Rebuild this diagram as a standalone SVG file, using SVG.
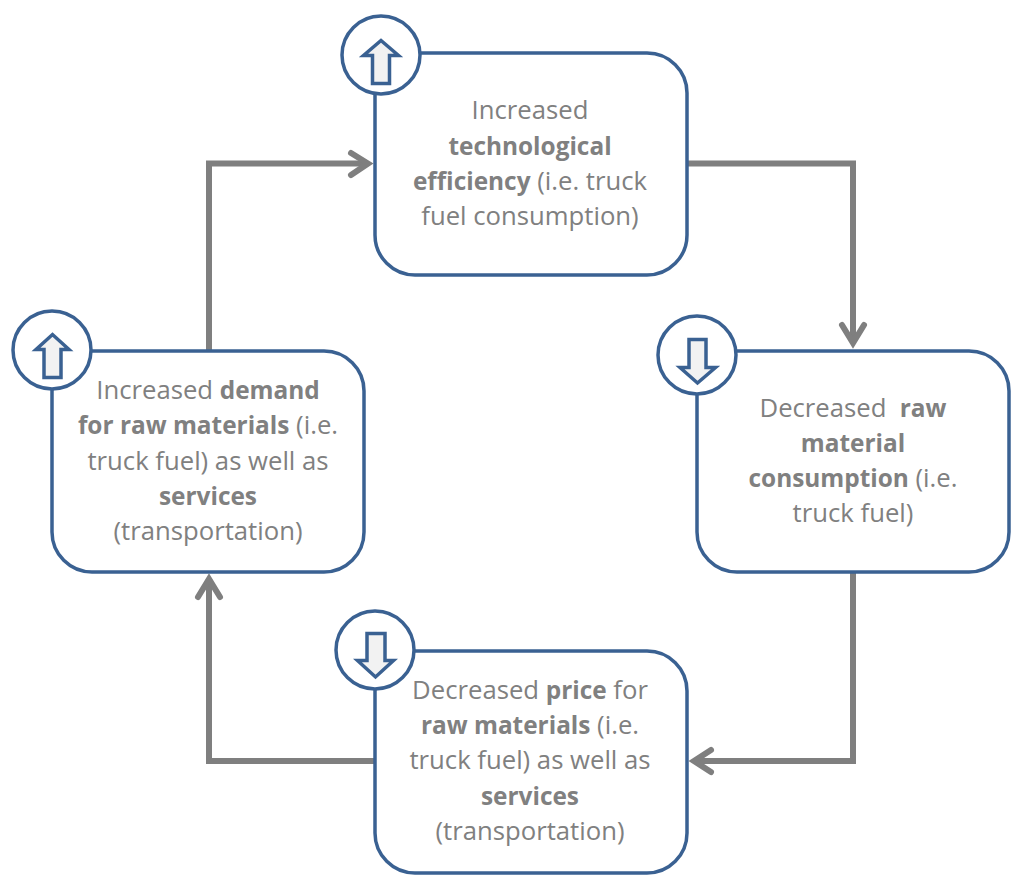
<svg xmlns="http://www.w3.org/2000/svg" width="1024" height="887" viewBox="0 0 1024 887">
<style>
.box{fill:#fff;stroke:#3a6192;stroke-width:3.5}
.c{fill:#fff;stroke:#3a6192;stroke-width:3.5}
.ar{fill:#f2f2f2;stroke:#3a6192;stroke-width:3.5;stroke-linejoin:miter}
.l{fill:none;stroke:#7f7f7f;stroke-width:6}
.h{fill:none;stroke:#7f7f7f;stroke-width:6;stroke-linecap:round;stroke-linejoin:miter}
text{font-family:"Open Sans","Noto Sans","Liberation Sans",sans-serif;font-size:25.7px;fill:#808080;text-anchor:middle}
.b{font-weight:700;font-size:24.4px}
</style>
<rect width="1024" height="887" fill="#fff"/>
<g id="connectors">
<path class="l" d="M688 163.500H853V343"/><path class="h" d="M842 325L853 343L864 325"/>
<path class="l" d="M853 573V761H695"/><path class="h" d="M711 750L694 761L711 772"/>
<path class="l" d="M375 761H209V580"/><path class="h" d="M198 597L209 579L220 597"/>
<path class="l" d="M209 350V163.500H367"/><path class="h" d="M351 153L368 163.500L351 175"/>
</g>
<g id="node-top">
<rect class="box" x="375" y="53" width="312" height="222" rx="40"/>
<circle class="c" cx="381" cy="55" r="39"/>
<path class="ar" d="M372.500 83.500V55.500H363.500L381 40.500L398.500 55.500H389.500V83.500Z"/>
<text x="530" y="119">Increased</text>
<text x="530" y="155" class="b">technological</text>
<text x="530" y="190"><tspan class="b">efficiency</tspan> (i.e. truck</text>
<text x="530" y="225">fuel consumption)</text>
</g>
<g id="node-right">
<rect class="box" x="697" y="351" width="312" height="221" rx="40"/>
<circle class="c" cx="697" cy="355" r="39"/>
<path class="ar" d="M689 339.500H706V367.500H715.500L697.500 383L680 367.500H689Z"/>
<text x="853" y="417" xml:space="preserve">Decreased  <tspan class="b">raw</tspan></text>
<text x="853" y="452" class="b">material</text>
<text x="853" y="487"><tspan class="b">consumption</tspan> (i.e.</text>
<text x="853" y="522">truck fuel)</text>
</g>
<g id="node-bottom">
<rect class="box" x="375" y="651" width="312" height="222" rx="40"/>
<circle class="c" cx="375" cy="650" r="39"/>
<path class="ar" d="M367 633.500H385V660.500H393.500L375.500 677L357.500 660.500H367Z"/>
<text x="530" y="699">Decreased <tspan class="b">price</tspan> for</text>
<text x="530" y="734"><tspan class="b">raw materials</tspan> (i.e.</text>
<text x="530" y="769">truck fuel) as well as</text>
<text x="530" y="805" class="b">services</text>
<text x="530" y="840">(transportation)</text>
</g>
<g id="node-left">
<rect class="box" x="52" y="351" width="312" height="221" rx="40"/>
<circle class="c" cx="52" cy="350" r="39"/>
<path class="ar" d="M44 377.500V349.500H36L52.500 334.500L69 349.500H61V377.500Z"/>
<text x="208" y="399">Increased <tspan class="b">demand</tspan></text>
<text x="208" y="434"><tspan class="b">for raw materials</tspan> (i.e.</text>
<text x="208" y="470">truck fuel) as well as</text>
<text x="208" y="505" class="b">services</text>
<text x="208" y="540">(transportation)</text>
</g>
</svg>
